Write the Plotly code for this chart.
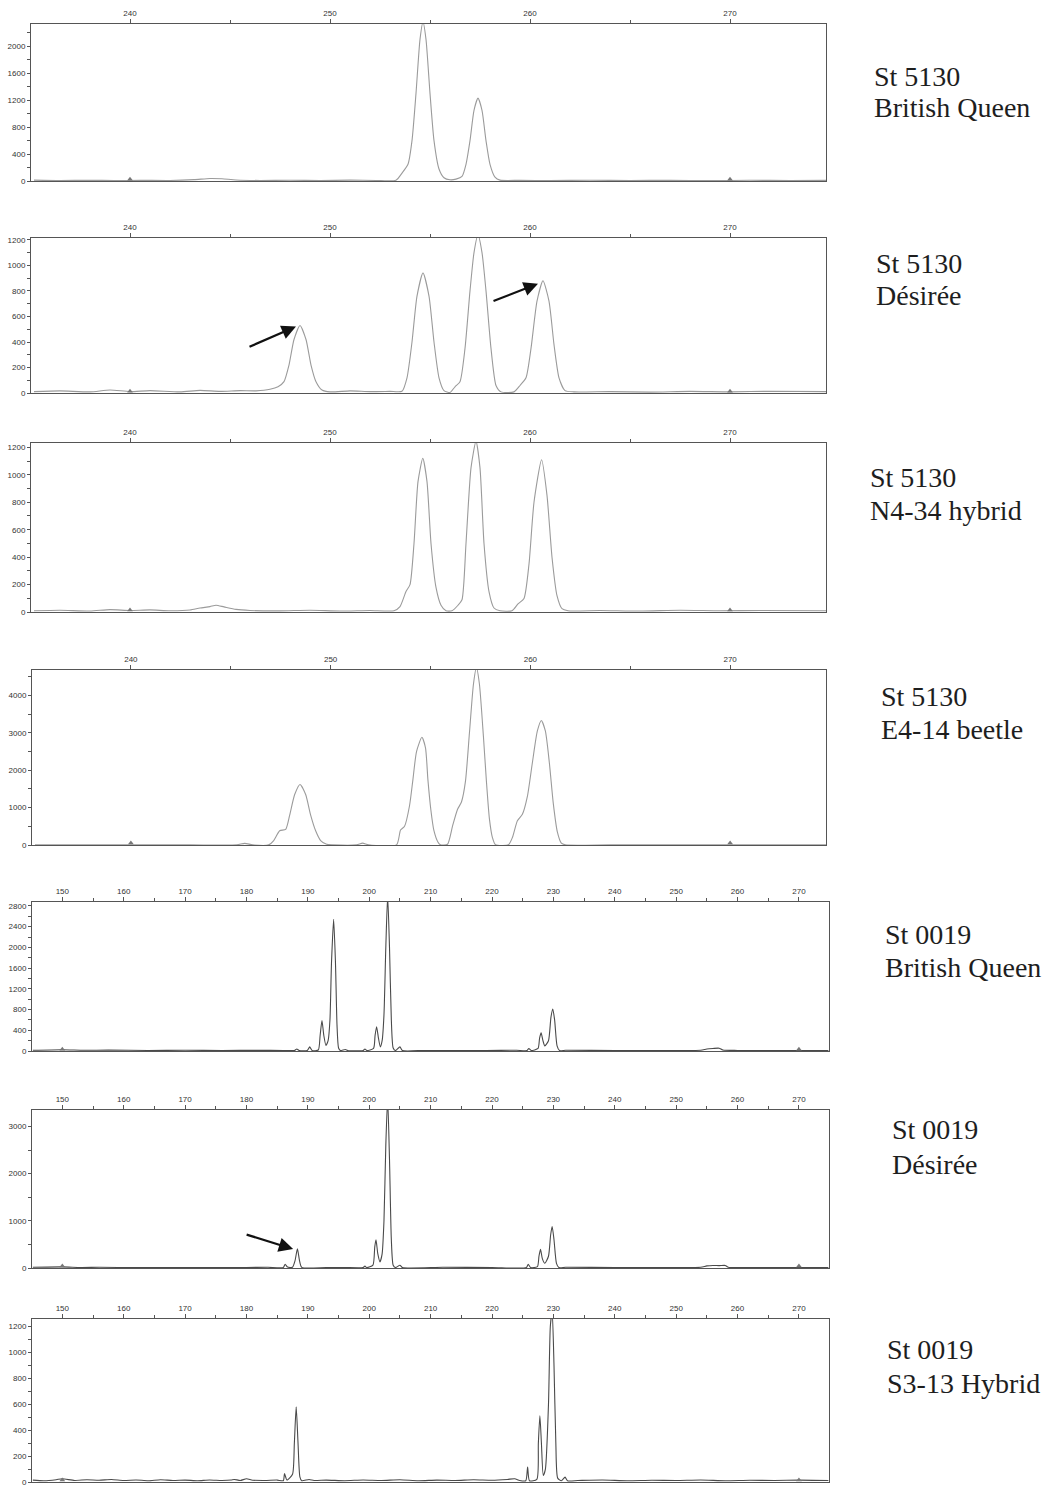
import plotly.graph_objects as go

W, H = 1050, 1491

# ---------------- data ----------------
# Panel 1: St 5130 British Queen
p1_x = [235.2, 236.5, 238.0, 239.2, 240.5, 242.0, 243.2, 244.0, 244.6, 245.3, 246.5, 248.0, 249.5, 251.0, 252.3,
        253.3, 253.6, 253.9, 254.1, 254.3, 254.5, 254.65, 254.8, 255.0, 255.2, 255.45, 255.7, 256.0,
        256.3, 256.6, 256.8, 257.0, 257.2, 257.4, 257.6, 257.8, 258.0, 258.25, 258.5,
        259.5, 261.0, 263.0, 265.0, 267.0, 269.0, 271.0, 273.0, 274.8]
p1_y = [15, 8, 14, 9, 12, 10, 22, 40, 35, 18, 10, 14, 9, 15, 10,
        15, 120, 250, 600, 1300, 2100, 2360, 2100, 1300, 600, 180, 50, 20,
        30, 70, 250, 600, 1050, 1230, 1050, 600, 250, 60, 15,
        12, 8, 14, 10, 12, 8, 13, 10, 12]

# Panel 2: St 5130 Desiree
p2_x = [235.2, 236.5, 238.0, 239.0, 240.0, 241.0, 242.5, 243.5, 244.5, 245.5, 246.3, 247.0,
        247.4, 247.7, 247.95, 248.2, 248.5, 248.8, 249.05, 249.3, 249.6, 250.0, 251.0, 252.0, 253.0,
        253.6, 253.85, 254.1, 254.35, 254.65, 254.95, 255.2, 255.45, 255.7,
        256.0, 256.25, 256.5, 256.75, 257.0, 257.2, 257.4, 257.6, 257.8, 258.05, 258.3, 258.55,
        259.2, 259.5, 259.8, 260.05, 260.35, 260.65, 260.95, 261.2, 261.45, 261.75, 262.2,
        264.0, 266.0, 268.0, 270.0, 272.0, 274.8]
p2_y = [12, 18, 10, 25, 12, 20, 10, 22, 14, 20, 18, 30,
        50, 90, 220, 420, 530, 420, 220, 90, 25, 10, 18, 12, 14,
        15, 120, 400, 760, 940, 760, 400, 120, 20,
        5, 50, 90, 350, 800, 1100, 1240, 1100, 800, 350, 60, 10,
        10, 60, 120, 350, 720, 880, 720, 380, 120, 20, 10,
        12, 8, 14, 10, 15, 12]

# Panel 3: St 5130 N4-34 hybrid
p3_x = [235.2, 236.5, 238.0, 239.0, 240.0, 241.0, 242.0, 243.0, 243.5, 244.0, 244.3, 244.7, 245.3, 246.0,
        247.5, 249.0, 250.5, 252.0, 253.2,
        253.5, 253.8, 254.0, 254.2, 254.4, 254.64, 254.85, 255.05, 255.3, 255.55, 255.8,
        256.1, 256.4, 256.6, 256.8, 257.05, 257.3, 257.5, 257.7, 257.95, 258.2, 258.5,
        259.1, 259.4, 259.7, 259.95, 260.2, 260.58, 260.85, 261.1, 261.35, 261.6, 261.9,
        263.5, 265.5, 267.5, 269.5, 271.5, 274.8]
p3_y = [10, 14, 8, 18, 12, 16, 10, 15, 30, 40, 50, 38, 20, 12,
        9, 14, 8, 12, 10,
        40, 150, 200, 500, 950, 1120, 950, 500, 180, 50, 10,
        10, 50, 90, 500, 1050, 1245, 1050, 500, 150, 30, 10,
        10, 60, 100, 350, 800, 1110, 850, 400, 120, 25, 10,
        12, 8, 14, 10, 12, 10]

# Panel 4: St 5130 E4-14 beetle
p4_x = [235.2, 238.0, 240.0, 243.0, 245.3, 245.7, 246.1, 246.9,
        247.15, 247.45, 247.75, 247.95, 248.2, 248.47, 248.75, 249.0, 249.25, 249.5, 249.8, 250.1,
        251.3, 251.6, 251.9, 253.3,
        253.5, 253.7, 253.95, 254.12, 254.3, 254.57, 254.75, 254.87, 255.02, 255.17, 255.37, 255.5,
        255.85, 256.1, 256.35, 256.55, 256.75, 256.95, 257.15, 257.3, 257.45, 257.65, 257.8, 257.95, 258.1, 258.25,
        258.9, 259.1, 259.35, 259.6, 259.85, 260.1, 260.35, 260.55, 260.75, 260.95, 261.15, 261.35, 261.55, 261.75,
        264.0, 268.0, 271.0, 274.8]
p4_y = [5, 5, 5, 5, 5, 45, 5, 5,
        120, 380, 420, 800, 1350, 1620, 1350, 800, 380, 120, 20, 5,
        5, 50, 5, 5,
        400, 500, 1050, 1750, 2500, 2880, 2600, 1750, 930, 390, 80, 5,
        20, 500, 950, 1150, 1700, 3000, 4300, 4750, 4300, 2900, 1700, 700, 200, 10,
        5, 200, 650, 820, 1300, 2200, 3050, 3330, 3050, 2200, 1100, 350, 50, 5,
        5, 5, 5, 5]

# Panel 5: St 0019 British Queen
p5_x = [145.2, 150.0, 153.5, 157.5, 164.0, 170.0, 176.0, 182.0, 186.0, 187.8, 188.2, 188.6, 189.9, 190.3, 190.7,
        191.7, 192.0, 192.3, 192.6, 192.95, 193.3, 193.6, 193.85, 194.2, 194.5, 194.75, 195.0, 195.3,
        196.1, 196.5, 199.0, 199.3, 199.6,
        200.7, 200.95, 201.2, 201.5, 201.8, 202.1, 202.4, 202.7, 203.0, 203.3, 203.6, 203.9, 204.3, 205.0, 205.4,
        209.0, 215.0, 219.0, 224.0, 225.7, 226.0, 226.4, 227.5, 227.75, 228.0, 228.3, 228.6, 229.2, 229.6, 229.9,
        230.2, 230.6, 231.0, 232.0, 240.0, 248.0, 254.0, 255.0, 256.0, 257.0, 257.6, 260.0, 265.0, 270.0, 274.8]
p5_y = [15, 25, 15, 18, 12, 15, 12, 14, 12, 10, 40, 10, 10, 80, 10,
        20, 300, 590, 300, 110, 200, 600, 1700, 2540, 1700, 500, 60, 10,
        30, 10, 10, 40, 10,
        50, 300, 470, 250, 80, 200, 700, 2000, 3000, 2000, 600, 60, 10, 80, 10,
        12, 10, 12, 15, 10, 50, 10, 50, 250, 350, 200, 100, 200, 650, 810,
        600, 100, 10, 15, 10, 12, 15, 40, 50, 55, 20, 12, 10, 12, 10]

# Panel 6: St 0019 Desiree
p6_x = [145.2, 150.0, 153.0, 156.0, 162.0, 168.0, 174.0, 180.0, 183.5, 186.0, 186.3, 186.7, 187.5, 187.9, 188.3,
        188.65, 189.0, 193.0, 196.0, 199.0, 199.3, 199.6,
        200.6, 200.9, 201.1, 201.4, 201.75, 202.1, 202.4, 202.7, 203.0, 203.3, 203.6, 203.9, 204.3, 205.0, 205.4,
        212.0, 220.0, 225.6, 225.9, 226.3, 227.4, 227.65, 227.9, 228.2, 228.6, 229.2, 229.55, 229.8, 230.1, 230.5,
        230.9, 232.0, 240.0, 248.0, 254.0, 255.0, 256.0, 257.0, 258.0, 258.5, 262.0, 268.0, 274.8]
p6_y = [15, 25, 12, 15, 10, 12, 10, 12, 15, 10, 80, 20, 15, 150, 405,
        150, 15, 12, 10, 10, 40, 10,
        60, 450, 597, 300, 130, 300, 1000, 2600, 3600, 2300, 600, 60, 10, 60, 10,
        15, 12, 10, 80, 10, 30, 250, 398, 200, 100, 250, 700, 881, 600, 100,
        10, 15, 12, 10, 15, 45, 55, 50, 55, 15, 12, 10, 12]

# Panel 7: St 0019 S3-13 Hybrid
p7_x = [145.2, 147.0, 149.0, 150.0, 152.0, 154.0, 156.0, 158.0, 160.0, 162.0, 164.0, 166.0, 168.0, 170.0,
        172.0, 174.0, 176.0, 177.5, 178.0, 179.0, 180.0, 181.0, 183.0, 185.0, 186.0, 186.2, 186.6,
        187.5, 187.8, 188.1, 188.4, 188.7, 189.0, 190.2, 191.0, 193.0, 196.0, 199.0, 202.0, 205.0, 208.0,
        211.0, 214.0, 217.0, 220.0, 222.5, 223.7, 224.5, 225.5, 225.8, 226.1, 227.3, 227.55, 227.8, 228.05,
        228.35, 228.7, 229.2, 229.5, 229.8, 230.1, 230.4, 230.7, 231.3, 231.9, 232.3, 234.0, 238.0, 242.0,
        246.0, 250.0, 254.0, 258.0, 262.0, 266.0, 270.0, 274.8]
p7_y = [15, 10, 18, 25, 12, 18, 14, 20, 12, 16, 10, 18, 12, 15,
        10, 16, 12, 15, 20, 12, 25, 14, 12, 15, 10, 65, 15,
        60, 300, 580, 300, 40, 10, 20, 12, 15, 10, 16, 12, 18, 10,
        15, 12, 18, 14, 20, 25, 12, 10, 115, 10, 20, 300, 512, 300,
        51, 100, 600, 1200, 1320, 900, 300, 30, 10, 38, 10, 12, 16, 10,
        14, 12, 16, 10, 14, 12, 15, 12]

# size-standard markers on the baseline
std_x_5130 = [240, 270]
std_x_0019 = [150, 270]

sample_names = ["St 5130", "St 5130", "St 5130", "St 5130", "St 0019", "St 0019", "St 0019"]
sample_types = ["British Queen", "Désirée", "N4-34 hybrid", "E4-14 beetle", "British Queen", "Désirée", "S3-13 Hybrid"]

y_tops = [2330, 1215, 1232, 4684, 2880, 3355, 1260]
y_dticks = [400, 200, 200, 1000, 400, 1000, 200]
y_minor = [200, 100, 100, 500, 200, 500, 100]

# ---------------- layout geometry (pixels) ----------------
boxes = [(31, 826, 22, 180), (31, 826, 237, 393), (31, 826, 443, 613), (32, 826, 671, 847),
         (32, 829, 904, 1054), (32, 829, 1113, 1272), (32, 829, 1323, 1487)]
x_ranges = [(235.05, 274.8)] * 4 + [(145.06, 274.9)] * 3
label_pos = [(872, 75, 106), (874, 263, 295), (868, 478, 511), (879, 698, 731),
             (883, 937, 970), (890, 1133, 1168), (885, 1354, 1388)]

traces_x = [p1_x, p2_x, p3_x, p4_x, p5_x, p6_x, p7_x]
traces_y = [p1_y, p2_y, p3_y, p4_y, p5_y, p6_y, p7_y]
line_colors = ["#9b9b9b"] * 4 + ["#4a4a4a"] * 3
std_xs = [std_x_5130] * 4 + [std_x_0019] * 3


def fx(px):
    return px / W


def fy(py):
    return 1 - py / H


fig = go.Figure()
layout = dict(width=W, height=H, margin=dict(l=0, r=0, t=0, b=0),
              paper_bgcolor="white", plot_bgcolor="white", showlegend=False)
annotations = []
tick_font = dict(family="Liberation Sans, Arial, sans-serif", size=8, color="#333")

for i in range(7):
    n = "" if i == 0 else str(i + 1)
    xa, ya = "x" + n, "y" + n
    l, r, t, b = boxes[i]
    fig.add_trace(go.Scatter(x=traces_x[i], y=traces_y[i], mode="lines", xaxis=xa, yaxis=ya,
                             line=dict(color=line_colors[i], width=1.1, shape="spline", smoothing=0.6),
                             hoverinfo="skip"))
    fig.add_trace(go.Scatter(x=std_xs[i], y=[y_tops[i] * 0.012] * len(std_xs[i]), mode="markers",
                             xaxis=xa, yaxis=ya, cliponaxis=False,
                             marker=dict(symbol="triangle-up", size=5, color="#777"), hoverinfo="skip"))
    layout["xaxis" + n] = dict(domain=[fx(l), fx(r)], range=list(x_ranges[i]), anchor=ya, side="top",
                               showline=True, mirror=True, linecolor="#555", linewidth=1,
                               ticks="outside", ticklen=4, tickcolor="#555", dtick=10, tick0=0,
                               minor=dict(dtick=5, tick0=0, ticks="outside", ticklen=3, tickcolor="#555"),
                               showgrid=False, zeroline=False, tickfont=tick_font, fixedrange=True)
    layout["yaxis" + n] = dict(domain=[fy(b), fy(t)], range=[0, y_tops[i]], anchor=xa,
                               showline=True, mirror=True, linecolor="#555", linewidth=1,
                               ticks="outside", ticklen=3, tickcolor="#555", dtick=y_dticks[i], tick0=0,
                               minor=dict(dtick=y_minor[i], tick0=0, ticks="outside", ticklen=3, tickcolor="#555"),
                               showgrid=False, zeroline=False, tickfont=tick_font, fixedrange=True)
    lx, ly1, ly2 = label_pos[i]
    for txt, yy in ((sample_names[i], ly1), (sample_types[i], ly2)):
        annotations.append(dict(text=txt, x=fx(lx), y=fy(yy), xref="paper", yref="paper",
                                xanchor="left", yanchor="middle", showarrow=False,
                                font=dict(family="Liberation Serif, Times New Roman, serif", size=28, color="#1e1e1e")))

# arrows pointing at the extra peaks
arrow_specs = [("x2", "y2", 248.3, 522, -48, 21), ("x2", "y2", 260.4, 857, -46, 18), ("x6", "y6", 187.6, 401, -48, -15)]
for xr, yr, xh, yh, axp, ayp in arrow_specs:
    annotations.append(dict(x=xh, y=yh, xref=xr, yref=yr, ax=axp, ay=ayp, axref="pixel", ayref="pixel",
                            text="", showarrow=True, arrowhead=2, arrowsize=1.3, arrowwidth=2.2,
                            arrowcolor="#111"))

layout["annotations"] = annotations
fig.update_layout(**layout)
fig.write_html("out.html", config={"displayModeBar": False},
               post_script="document.body.style.margin='0';")
